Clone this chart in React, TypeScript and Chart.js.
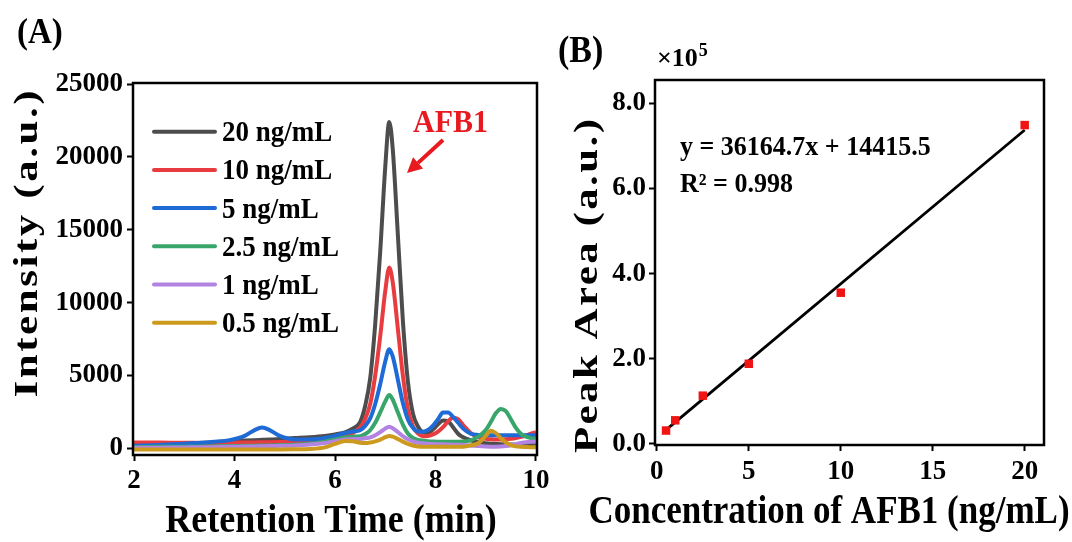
import React, { useEffect, useRef } from 'react';
import { Chart, registerables } from 'chart.js';

Chart.register(...registerables);

const FONT = "'Liberation Serif', 'Times New Roman', Times, serif";

// ---------- Panel A: chromatograms ----------
const TIME = [2.0, 2.5, 3.0, 3.5, 3.9, 4.2, 4.4, 4.55, 4.7, 4.9, 5.2, 5.5, 5.8, 6.0, 6.2, 6.35, 6.5, 6.6, 6.7, 6.8, 6.9, 7.0, 7.08, 7.15, 7.25, 7.35, 7.45, 7.55, 7.65, 7.75, 7.85, 7.95, 8.05, 8.15, 8.25, 8.35, 8.45, 8.55, 8.7, 8.85, 9.0, 9.1, 9.2, 9.3, 9.4, 9.5, 9.6, 9.7, 9.8, 9.9, 10.0];

const I_20 = [200, 250, 320, 400, 480, 530, 560, 580, 600, 640, 700, 760, 850, 950, 1100, 1350, 1800, 2900, 4800, 8500, 13500, 19300, 22400, 20500, 14700, 8800, 4600, 2400, 1500, 1100, 1050, 1300, 1650, 1900, 1850, 1450, 1000, 750, 550, 420, 350, 320, 300, 280, 270, 260, 250, 250, 250, 250, 250];
const I_10 = [400, 390, 380, 370, 380, 390, 400, 410, 420, 440, 480, 530, 620, 720, 900, 1050, 1420, 2020, 3030, 4990, 7700, 10790, 12400, 11380, 8230, 5010, 2700, 1520, 1020, 820, 850, 950, 1150, 1450, 1850, 2100, 2000, 1600, 1050, 750, 650, 620, 600, 600, 620, 650, 700, 780, 880, 1000, 1100];
const I_5 = [180, 230, 320, 420, 560, 850, 1250, 1420, 1250, 850, 600, 600, 700, 850, 1050, 1150, 1240, 1540, 2050, 3040, 4410, 5960, 6800, 6290, 4720, 3120, 1980, 1410, 1150, 1140, 1250, 1550, 2000, 2450, 2450, 2150, 1750, 1350, 1000, 920, 900, 900, 900, 900, 900, 900, 900, 900, 900, 900, 900];
const I_2_5 = [80, 100, 110, 130, 150, 170, 180, 190, 200, 220, 250, 320, 450, 600, 750, 800, 820, 980, 1240, 1750, 2460, 3220, 3650, 3330, 2470, 1630, 1020, 710, 580, 520, 480, 460, 450, 450, 450, 450, 450, 460, 550, 800, 1250, 1800, 2400, 2700, 2550, 2000, 1400, 1000, 800, 700, 650];
const I_1 = [30, 40, 60, 80, 100, 120, 130, 140, 150, 170, 200, 260, 370, 490, 600, 640, 640, 690, 750, 900, 1110, 1350, 1480, 1380, 1120, 830, 620, 480, 380, 340, 310, 290, 280, 270, 260, 250, 240, 230, 200, 150, 120, 110, 110, 120, 150, 200, 280, 360, 420, 450, 460];
const I_0_5 = [-80, -80, -80, -80, -80, -80, -80, -80, -80, -80, -70, -50, 60, 300, 500, 480, 380, 360, 400, 480, 600, 760, 850, 800, 640, 460, 300, 190, 130, 100, 100, 100, 100, 100, 100, 100, 100, 110, 200, 350, 850, 1200, 1050, 700, 400, 220, 130, 100, 90, 80, 80];

const SERIES_LABELS = ['20 ng/mL', '10 ng/mL', '5 ng/mL', '2.5 ng/mL', '1 ng/mL', '0.5 ng/mL'];
const SERIES_VALUES = [I_20, I_10, I_5, I_2_5, I_1, I_0_5];
const SERIES_COLORS = ['#4d4d4d', '#e83c40', '#1e6bd6', '#38a66a', '#b283e0', '#cc9a1c'];

const A_X_TICKS = [2, 4, 6, 8, 10];
const A_Y_TICKS = [0, 5000, 10000, 15000, 20000, 25000];

// ---------- Panel B: calibration ----------
const CONC = [0.5, 1, 2.5, 5, 10, 20];
const AREA = [0.31, 0.55, 1.13, 1.88, 3.55, 7.49]; // x 10^5
const FIT_X = [0.5, 20];
const FIT_Y = [0.325, 7.374]; // x 10^5, y = 36164.7x + 14415.5
const B_X_TICKS = [0, 5, 10, 15, 20];
const B_Y_TICKS = [0, 2, 4, 6, 8];

const RED = '#e8191f';

function drawStretched(ctx: any, text: string, x: number, y: number, font: string, sy: number, align: string) {
  ctx.save();
  ctx.font = font;
  ctx.textAlign = align;
  ctx.textBaseline = 'alphabetic';
  ctx.translate(x, y);
  ctx.scale(1, sy);
  ctx.fillText(text, 0, 0);
  ctx.restore();
}

function drawVertical(ctx: any, text: string, x: number, cy: number, font: string, stretch: number, spacing: number) {
  ctx.save();
  ctx.font = font;
  ctx.letterSpacing = spacing + 'px';
  const w = ctx.measureText(text).width - spacing;
  ctx.translate(x, cy);
  ctx.rotate(-Math.PI / 2);
  ctx.scale(stretch, 1);
  ctx.textAlign = 'left';
  ctx.textBaseline = 'alphabetic';
  ctx.fillText(text, -w / 2, 0);
  ctx.restore();
}

function drawBox(ctx: any, area: any) {
  ctx.save();
  ctx.strokeStyle = '#000';
  ctx.lineWidth = 2.5;
  ctx.strokeRect(area.left, area.top, area.right - area.left, area.bottom - area.top);
  ctx.restore();
}

const panelAPlugin = {
  id: 'panelA',
  afterDraw(chart: any) {
    const ctx = chart.ctx;
    drawBox(ctx, chart.chartArea);
    ctx.save();
    ctx.fillStyle = '#000';
    // legend
    chart.data.datasets.forEach((ds: any, i: number) => {
      const y = 131.7 + i * 38.2;
      ctx.strokeStyle = ds.borderColor;
      ctx.lineWidth = 4;
      ctx.lineCap = 'round';
      ctx.beginPath();
      ctx.moveTo(154, y);
      ctx.lineTo(215, y);
      ctx.stroke();
      drawStretched(ctx, ds.label, 222, y + 9.5, `bold 27px ${FONT}`, 1.06, 'left');
    });
    // AFB1 annotation
    ctx.fillStyle = RED;
    drawStretched(ctx, 'AFB1', 413, 132, `bold 30px ${FONT}`, 1.06, 'left');
    ctx.strokeStyle = RED;
    ctx.lineWidth = 4;
    ctx.lineCap = 'butt';
    const x0 = 443, y0 = 140, x1 = 407, y1 = 173;
    const ang = Math.atan2(y1 - y0, x1 - x0);
    const hl = 15, hw = 7.5;
    const bx = x1 - hl * Math.cos(ang), by = y1 - hl * Math.sin(ang);
    ctx.beginPath();
    ctx.moveTo(x0, y0);
    ctx.lineTo(bx, by);
    ctx.stroke();
    ctx.beginPath();
    ctx.moveTo(x1, y1);
    ctx.lineTo(bx + hw * Math.sin(ang), by - hw * Math.cos(ang));
    ctx.lineTo(bx - hw * Math.sin(ang), by + hw * Math.cos(ang));
    ctx.closePath();
    ctx.fill();
    // panel letter + titles
    ctx.fillStyle = '#000';
    drawStretched(ctx, '(A)', 17, 43, `bold 33px ${FONT}`, 1.1, 'left');
    drawStretched(ctx, 'Retention Time (min)', 331, 532, `bold 36px ${FONT}`, 1.12, 'center');
    drawVertical(ctx, 'Intensity (a.u.)', 37, 244, `bold 33px ${FONT}`, 1.3, 2.0);
    ctx.restore();
  },
};

const panelBPlugin = {
  id: 'panelB',
  afterDraw(chart: any) {
    const ctx = chart.ctx;
    drawBox(ctx, chart.chartArea);
    ctx.save();
    ctx.fillStyle = '#000';
    drawStretched(ctx, '(B)', 13, 62, `bold 34px ${FONT}`, 1.1, 'left');
    // x10^5 multiplier
    ctx.font = `bold 26px ${FONT}`;
    ctx.textAlign = 'left';
    ctx.textBaseline = 'alphabetic';
    ctx.fillText('×10', 112, 66);
    const w = ctx.measureText('×10').width;
    ctx.font = `bold 18px ${FONT}`;
    ctx.fillText('5', 112 + w + 1, 56);
    // equation
    drawStretched(ctx, 'y = 36164.7x + 14415.5', 135, 155, `bold 26px ${FONT}`, 1.06, 'left');
    drawStretched(ctx, 'R² = 0.998', 135, 192, `bold 26px ${FONT}`, 1.06, 'left');
    drawStretched(ctx, 'Concentration of AFB1 (ng/mL)', 284, 523, `bold 35px ${FONT}`, 1.12, 'center');
    drawVertical(ctx, 'Peak Area (a.u.)', 52, 286, `bold 33px ${FONT}`, 1.3, 1.9);
    ctx.restore();
  },
};

const tickFont = { family: FONT, size: 27, weight: 'bold' as const };
const gridOpts = { display: true, drawOnChartArea: false, drawTicks: true, tickLength: 6, tickWidth: 2, tickColor: '#000' };

function makeConfigA(): any {
  return {
    type: 'line',
    data: {
      datasets: SERIES_LABELS.map((label, i) => ({
        label,
        data: TIME.map((t, j) => ({ x: t, y: SERIES_VALUES[i][j] })),
        borderColor: SERIES_COLORS[i],
        backgroundColor: SERIES_COLORS[i],
        borderWidth: 4,
        pointRadius: 0,
        fill: false,
        cubicInterpolationMode: 'monotone',
        order: SERIES_LABELS.length - i,
      })),
    },
    options: {
      responsive: false,
      animation: false,
      events: [],
      layout: { padding: { left: 0, top: 83, right: 23, bottom: 0 } },
      plugins: { legend: { display: false }, tooltip: { enabled: false } },
      scales: {
        x: {
          type: 'linear',
          min: 1.98,
          max: 10.02,
          afterBuildTicks: (s: any) => { s.ticks = A_X_TICKS.map((v) => ({ value: v })); },
          afterFit: (s: any) => { s.height = 87; },
          grid: gridOpts,
          border: { display: false },
          ticks: { color: '#000', font: tickFont, padding: 4, maxRotation: 0, callback: (v: any) => String(v) },
        },
        y: {
          type: 'linear',
          min: -460,
          max: 25070,
          afterBuildTicks: (s: any) => { s.ticks = A_Y_TICKS.map((v) => ({ value: v })); },
          afterFit: (s: any) => { s.width = 133; },
          grid: gridOpts,
          border: { display: false },
          ticks: { color: '#000', font: tickFont, padding: 4, callback: (v: any) => String(v) },
        },
      },
    },
    plugins: [panelAPlugin],
  };
}

function makeConfigB(): any {
  return {
    type: 'scatter',
    data: {
      datasets: [
        {
          label: 'Peak area',
          data: CONC.map((c, i) => ({ x: c, y: AREA[i] })),
          pointStyle: 'rect',
          pointRadius: 6,
          backgroundColor: '#f01414',
          borderColor: '#f01414',
          borderWidth: 0,
          order: 0,
        },
        {
          label: 'Linear fit',
          data: FIT_X.map((x, i) => ({ x, y: FIT_Y[i] })),
          showLine: true,
          borderColor: '#000',
          borderWidth: 2.8,
          pointRadius: 0,
          order: 1,
        },
      ],
    },
    options: {
      responsive: false,
      animation: false,
      events: [],
      layout: { padding: { left: 0, top: 80, right: 28, bottom: 0 } },
      plugins: { legend: { display: false }, tooltip: { enabled: false } },
      scales: {
        x: {
          type: 'linear',
          min: -0.1,
          max: 21.05,
          afterBuildTicks: (s: any) => { s.ticks = B_X_TICKS.map((v) => ({ value: v })); },
          afterFit: (s: any) => { s.height = 97; },
          grid: gridOpts,
          border: { display: false },
          ticks: { color: '#000', font: tickFont, padding: 5, maxRotation: 0, callback: (v: any) => String(v) },
        },
        y: {
          type: 'linear',
          min: -0.03,
          max: 8.55,
          afterBuildTicks: (s: any) => { s.ticks = B_Y_TICKS.map((v) => ({ value: v })); },
          afterFit: (s: any) => { s.width = 110; },
          grid: gridOpts,
          border: { display: false },
          ticks: { color: '#000', font: tickFont, padding: 3, callback: (v: any) => Number(v).toFixed(1) },
        },
      },
    },
    plugins: [panelBPlugin],
  };
}

export default function App() {
  const aRef = useRef<HTMLCanvasElement>(null);
  const bRef = useRef<HTMLCanvasElement>(null);
  useEffect(() => {
    const ca = new Chart(aRef.current as HTMLCanvasElement, makeConfigA());
    const cb = new Chart(bRef.current as HTMLCanvasElement, makeConfigB());
    return () => {
      ca.destroy();
      cb.destroy();
    };
  }, []);
  return (
    <div style={{ position: 'absolute', left: 0, top: 0, width: 1072, height: 542, background: '#fff', overflow: 'hidden' }}>
      <canvas ref={aRef} width={560} height={542} style={{ position: 'absolute', left: 0, top: 0 }} />
      <canvas ref={bRef} width={527} height={542} style={{ position: 'absolute', left: 545, top: 0 }} />
    </div>
  );
}
